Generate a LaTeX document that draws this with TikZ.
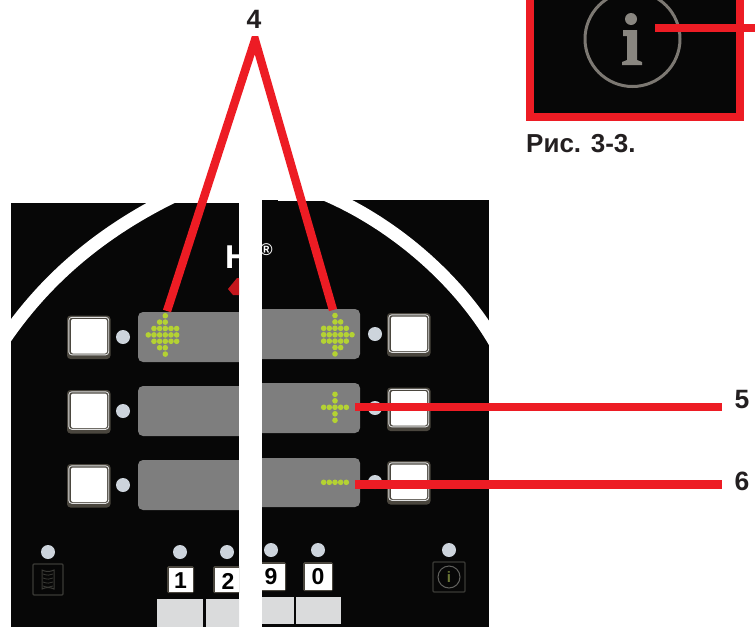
\documentclass[tikz,border=0pt]{standalone}
\usepackage{fontspec}
\setmainfont{Liberation Sans}
\definecolor{redline}{HTML}{ED1C24}
\definecolor{panelblack}{HTML}{070707}
\definecolor{dotgreen}{HTML}{B4D233}
\definecolor{dispgrey}{HTML}{7E7E7E}
\definecolor{ledgrey}{HTML}{CDD4DC}
\definecolor{keygrey}{HTML}{DADBDC}
\definecolor{capgrey}{HTML}{231F20}
\definecolor{btnrim}{HTML}{4A463E}
\definecolor{iconrim}{HTML}{3A3A36}
\definecolor{inforim}{HTML}{7C7872}
\definecolor{logored}{HTML}{C4161C}
\tikzset{
  redconn/.style={draw=redline,line width=8.4pt,miter limit=20},
  panel/.style={fill=panelblack,draw=none},
  disp/.style={fill=dispgrey,draw=none,rounded corners=5pt},
  led/.style={fill=ledgrey,draw=none},
  grn/.style={fill=dotgreen,draw=none},
  btnouter/.style={fill=btnrim,draw=none,rounded corners=3.5pt},
  btninner/.style={fill=white,draw=none,rounded corners=2pt},
  btnline/.style={draw=white!88!black,line width=.9pt,rounded corners=3pt},
  keygr/.style={fill=keygrey,draw=none},
  calllabel/.style={font=\bfseries\fontsize{26.5}{28}\selectfont,text=capgrey,inner sep=0pt},
  keylabel/.style={font=\bfseries\fontsize{23}{25}\selectfont,text=black,inner sep=0pt},
  band/.style={draw=white,line width=13pt},
  iconbox/.style={draw=iconrim,line width=1.3pt,rounded corners=1pt}
}
\newcommand{\btn}[2]{% x,y of top-left
  \fill[btnouter] (#1,#2) rectangle ++(43.5,43.5);
  \draw[btnline] (#1+1.8,#2+1.8) rectangle ++(39.9,37.5);
  \fill[btninner] (#1+4,#2+3.5) rectangle ++(36,34.5);
}
\newcommand{\keybox}[4]{% x1 y1 x2 y2
  \fill[btnrim,rounded corners=1.5pt] (#1,#2) rectangle (#3,#4);
  \fill[white] (#1+1.5,#2+1.5) rectangle (#3-1.5,#4-1.5);
}
\begin{document}
\begin{tikzpicture}[x=1pt,y=-1pt]
\useasboundingbox (0,0) rectangle (755,627);
% ---- left panel
\begin{scope}
\clip (11,203) rectangle (239,627);
\fill[panel] (11,203) rectangle (239,627);
\draw[band] (0,346) .. controls (40,285) and (95,235) .. (172,197);
\node[anchor=base west,inner sep=0pt,text=white,font=\bfseries\fontsize{33}{35}\selectfont] (hlogo) at (225,268) {H};
\fill[logored] (228,289) -- (237,278) -- (245,278) -- (245,295) -- (233,295) -- cycle;
\end{scope}
% ---- right panel
\begin{scope}
\clip (262,200) rectangle (489,627);
\fill[panel] (262,200) rectangle (489,627);
\draw[band] (322,193) .. controls (392,222) and (460,280) .. (497,346);
\fill[white] (278,200) rectangle (340,200.8);
\node[anchor=base,inner sep=0pt,text=white,font=\bfseries\fontsize{17}{18}\selectfont] (regmark) at (266.5,255) {®};
\end{scope}
% ---- displays
\fill[disp] (138,312) rectangle (250,362);
\fill[disp] (138,386) rectangle (250,436);
\fill[disp] (138,460) rectangle (250,510);
\fill[white] (239,300) rectangle (262,520);
\fill[disp] (250,309) rectangle (360,359);
\fill[disp] (250,383) rectangle (360,433);
\fill[disp] (250,458) rectangle (360,507);
\fill[white] (239,300) rectangle (262,520);
% ---- buttons and leds
\btn{67}{315.5}\btn{67}{390}\btn{67}{464}
\btn{387}{313}\btn{387}{387.5}\btn{387}{461}
\foreach \y in {337,411,485} \fill[led] (123,\y) circle (7);
\foreach \y in {334,408,482} \fill[led] (375,\y) circle (7);
\foreach \x in {48,180,227} \fill[led] (\x,552) circle (7);
\foreach \x in {271,318,449} \fill[led] (\x,550) circle (7);
% ---- dot arrows
\foreach \c/\r in {0/0,0/1,-1/1,-2/2,-1/2,0/2,1/2,2/2,-3/3,-2/3,-1/3,0/3,1/3,2/3,-2/4,-1/4,0/4,1/4,2/4,-1/5,0/5,0/6}
  \fill[grn] ({165.3+\c*5.67},{315.7+\r*6.4}) circle (2.8);
\foreach \c/\r in {0/0,0/1,1/1,-2/2,-1/2,0/2,1/2,2/2,-2/3,-1/3,0/3,1/3,2/3,3/3,-2/4,-1/4,0/4,1/4,2/4,0/5,1/5,0/6}
  \fill[grn] ({335+\c*5.67},{315.5+\r*6.4}) circle (2.8);
\foreach \c/\r in {0/0,0/1,-2/2,-1/2,0/2,1/2,2/2,0/3,0/4}
  \fill[grn] ({335+\c*5.67},{394.3+\r*6.5}) circle (2.8);
\foreach \c in {-2,-1,0,1,2}
  \fill[grn] ({335+\c*5.67},482.3) circle (2.8);
% ---- bottom row
\fill[keygr] (157,599) rectangle (203,627);
\begin{scope}
\clip (11,203) rectangle (239,627);
\fill[keygr] (206,599) rectangle (260,627);
\keybox{167}{566}{194}{593}
\keybox{213}{566}{250}{593}
\end{scope}
\node[keylabel] (k1) at (180.5,581) {1};
\node[keylabel] (k2) at (228,581) {2};
\begin{scope}
\clip (262,200) rectangle (489,627);
\fill[keygr] (250,597) rectangle (293.5,624);
\keybox{250}{562}{286}{591}
\end{scope}
\fill[keygr] (296,597) rectangle (341,624);
\keybox{303}{562}{333}{591}
\node[keylabel] (k9) at (271,577) {9};
\node[keylabel] (k0) at (318,577) {0};
% book icon
\draw[iconbox] (33,564) rectangle (63,595);
\draw[iconrim,line width=1pt] (42,570) .. controls (46,572) and (50,572) .. (54,570) -- (54,589) .. controls (50,587) and (46,587) .. (42,589) -- cycle;
\foreach \y in {574,578,582,586}
  \draw[iconrim,line width=.8pt] (43,\y) .. controls (47,\y+1.5) and (50,\y+1.5) .. (53,\y);
% small info icon
\draw[iconbox] (433,562) rectangle (465,592);
\draw[iconrim!80!white,line width=1pt] (449,577) circle (11);
\node[inner sep=0pt,text=iconrim!60!dotgreen,font=\bfseries\fontsize{15}{16}\selectfont] (smalli) at (449,577) {i};
% ---- info enlargement
\fill[panelblack] (530,-4) rectangle (740,117);
\draw[inforim,line width=3pt] (632.5,39) circle (47.5);
\fill[inforim!90!white] (623,30) -- (637,30) -- (637,60) -- (642,62) -- (642,65) -- (622,65) -- (622,62) -- (627,60) -- (627,36) -- (623,36) -- cycle;
\fill[inforim!90!white] (631,19) circle (6);
\draw[redline,line width=8.4pt,miter limit=20] (530,-6) -- (530,117) -- (740,117) -- (740,-6);
\coordinate (inner) at (655,28);
\coordinate (outer) at (755,28);
\draw[redconn] (inner) -- (outer);
\node[anchor=base west,inner sep=0pt,text=capgrey,font=\bfseries\fontsize{26}{28}\selectfont] (caption) at (526,152) {Рис. 3-3.};
% ---- callouts
\coordinate (apex) at (255,40);
\coordinate (dotL) at (167,311);
\coordinate (dotR) at (333,310);
\begin{scope}
\clip (0,36) rectangle (755,627);
\draw[redconn] (dotL) -- (apex) -- (dotR);
\end{scope}
\node[calllabel] (n4) at (254,19.5) {4};
\node[calllabel] (n5) at (742,400) {5};
\node[calllabel] (n6) at (742,481.7) {6};
\coordinate (c5a) at (355,407);
\coordinate (c5b) at (722,407);
\coordinate (c6a) at (355,484.5);
\coordinate (c6b) at (722,484.5);
\draw[redconn] (c5a) -- (c5b);
\draw[redconn] (c6a) -- (c6b);
\end{tikzpicture}
\end{document}
